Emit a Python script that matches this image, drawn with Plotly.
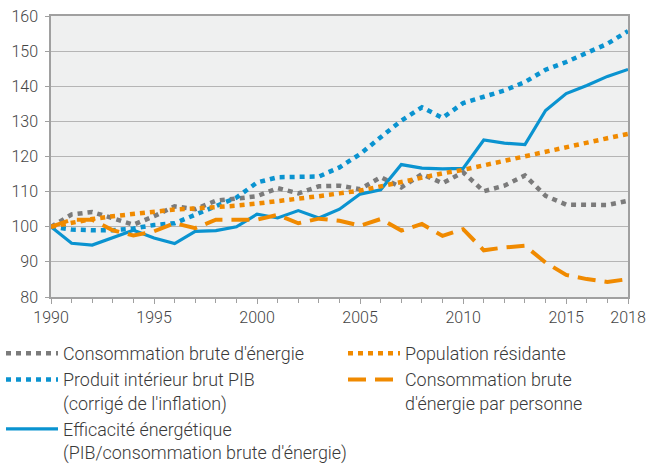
import plotly.graph_objects as go

years = list(range(1990, 2019))

conso_brute = [100, 103.5, 104.2, 102.3, 100.6, 103.0, 105.8, 105.0, 107.4, 108.0, 108.7,
               111.0, 109.5, 111.5, 111.7, 110.7, 114.1, 111.2, 115.0, 112.4, 115.5,
               110.1, 111.7, 114.6, 108.8, 106.3, 106.2, 106.2, 107.4]

population = [100, 101.2, 102.2, 103.0, 103.7, 104.3, 104.9, 105.2, 105.5, 106.0, 106.6,
              107.2, 107.9, 108.7, 109.5, 110.3, 111.5, 112.8, 114.1, 115.2, 116.2,
              117.5, 118.8, 120.3, 121.6, 122.8, 124.0, 125.2, 126.4]

pib = [100, 99.2, 99.0, 99.0, 99.5, 100.5, 101.0, 103.5, 106.0, 108.3, 112.6,
       114.1, 114.2, 114.3, 116.9, 120.7, 125.5, 130.2, 134.0, 131.0, 135.2,
       136.9, 138.8, 141.2, 144.7, 146.9, 149.4, 152.1, 155.7]

conso_par_pers = [100, 102.0, 102.0, 99.0, 97.5, 98.7, 101.0, 99.6, 102.0, 102.0, 102.0,
                  103.4, 101.0, 102.3, 101.7, 100.3, 102.2, 98.9, 100.8, 97.4, 99.3,
                  93.3, 94.1, 94.6, 89.8, 86.3, 85.1, 84.3, 85.1]

efficacite = [100, 95.3, 94.8, 96.8, 99.0, 96.8, 95.2, 98.7, 98.9, 100.0, 103.6,
              102.5, 104.6, 102.5, 105.0, 109.3, 110.5, 117.7, 116.7, 116.5, 116.6,
              124.7, 123.8, 123.4, 133.1, 137.9, 140.2, 142.8, 144.8]

names = ["Consommation brute d'énergie",
         "Population résidante",
         "Produit intérieur brut PIB<br>(corrigé de l'inflation)",
         "Consommation brute<br>d'énergie par personne",
         "Efficacité énergétique<br>(PIB/consommation brute d'énergie)"]

x_tickvals = [1990, 1995, 2000, 2005, 2010, 2015, 2018]

GRAY = "#7b7b7b"
ORANGE = "#f08a00"
BLUE = "#0a93d0"
DOT = "5px,5px"

fig = go.Figure()
fig.add_trace(go.Scatter(x=years, y=conso_brute, name=names[0], mode="lines",
                         legend="legend", legendgroup="a",
                         line=dict(color=GRAY, width=4.5, dash=DOT)))
fig.add_trace(go.Scatter(x=years, y=pib, name=names[2], mode="lines",
                         legend="legend", legendgroup="b",
                         line=dict(color=BLUE, width=4.5, dash=DOT)))
fig.add_trace(go.Scatter(x=years, y=efficacite, name=names[4], mode="lines",
                         legend="legend", legendgroup="c",
                         line=dict(color=BLUE, width=3.2)))
fig.add_trace(go.Scatter(x=years, y=population, name=names[1], mode="lines",
                         legend="legend2", legendgroup="d",
                         line=dict(color=ORANGE, width=4.5, dash=DOT)))
fig.add_trace(go.Scatter(x=years, y=conso_par_pers, name=names[3], mode="lines",
                         legend="legend2", legendgroup="e",
                         line=dict(color=ORANGE, width=4, dash="18px,9px")))

legend_common = dict(orientation="v", xanchor="left", yanchor="top",
                     xref="container", yref="container", y=1 - 335 / 464,
                     itemwidth=52, valign="top", tracegroupgap=8.5,
                     font=dict(family="Roboto", size=17.9, color="#3a3a3a", weight=300),
                     bgcolor="rgba(0,0,0,0)", borderwidth=0, traceorder="normal")

fig.update_layout(
    width=649, height=464,
    margin=dict(l=51, r=21, t=16, b=167, autoexpand=False),
    paper_bgcolor="white",
    plot_bgcolor="#eff0f0",
    font=dict(family="Roboto", size=16, color="#444444", weight=300),
    showlegend=True,
    legend=dict(x=1 / 649, **legend_common),
    legend2=dict(x=343 / 649, **legend_common),
    xaxis=dict(range=[1990, 2018], tickmode="array", tickvals=x_tickvals,
               ticktext=[str(v) for v in x_tickvals],
               showgrid=False, showline=True, linecolor="#a0a0a0", linewidth=1.5,
               mirror=True, ticks="outside", ticklen=5, tickcolor="#a0a0a0",
               minor=dict(dtick=1, tick0=1990, ticks="outside", ticklen=4, tickcolor="#a0a0a0"),
               tickfont=dict(size=16, color="#444444"), zeroline=False, automargin=False),
    yaxis=dict(range=[80, 160], dtick=10, showgrid=True, gridcolor="#b5b5b5", gridwidth=1,
               showline=True, linecolor="#a0a0a0", linewidth=1.5, mirror=True,
               ticks="outside", ticklen=4, tickcolor="#a0a0a0", ticklabelstandoff=4,
               tickfont=dict(size=16, color="#444444"), zeroline=False, automargin=False),
)

fig.write_html("out.html", config={"displayModeBar": False},
               post_script="document.body.style.margin='0px';")
